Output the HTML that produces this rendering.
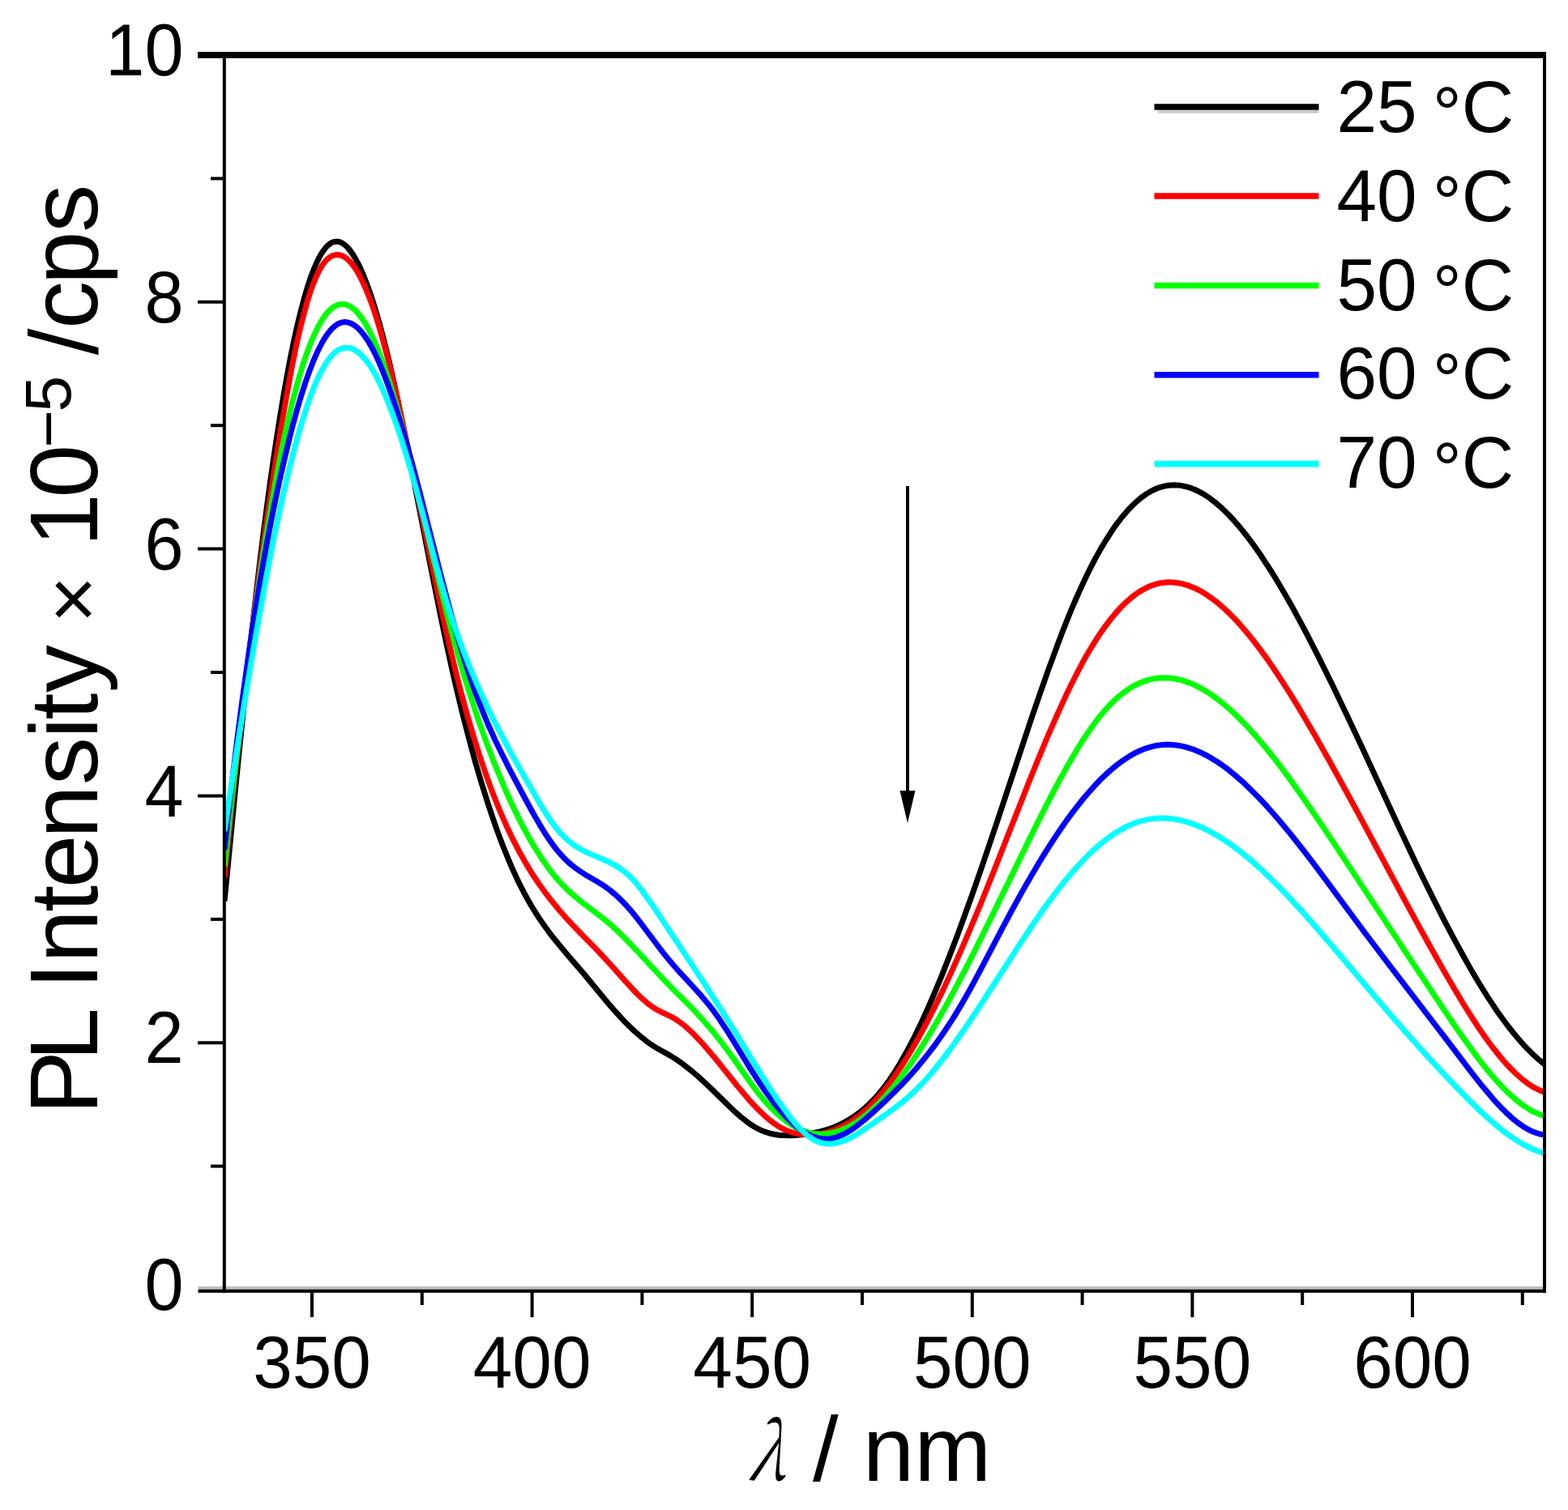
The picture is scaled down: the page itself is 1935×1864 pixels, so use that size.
<!DOCTYPE html>
<html><head><meta charset="utf-8"><title>PL Intensity vs wavelength</title>
<style>html,body{margin:0;padding:0;background:#fff;overflow:hidden}svg{display:block}</style></head>
<body>
<svg width="1935" height="1864" viewBox="0 0 1935 1864">
<rect width="1935" height="1864" fill="#fff"/>
<g fill="none" stroke-width="7" stroke-linejoin="round" stroke-linecap="butt" clip-path="url(#pc)">
<path d="M277.0,1112.3 289.2,987.0 299.2,888.1 308.5,800.9 317.0,725.5 321.2,689.7 325.2,657.4 329.5,624.6 333.5,595.0 337.8,565.1 341.8,538.4 345.8,513.0 349.8,489.0 354.0,465.0 358.2,442.6 362.5,421.8 366.5,403.6 370.8,385.9 375.0,369.8 379.2,355.3 383.2,343.1 387.5,331.8 391.5,322.7 393.5,318.6 395.5,315.0 397.5,311.7 399.8,308.4 401.8,305.9 404.0,303.5 406.0,301.8 408.2,300.2 410.2,299.2 412.5,298.5 414.5,298.2 416.8,298.2 418.2,298.5 419.8,298.9 422.8,300.4 425.8,302.5 429.0,305.6 432.0,309.1 435.2,313.7 438.2,318.6 441.5,324.6 444.8,331.3 448.0,338.7 451.2,346.8 454.5,355.5 457.8,364.9 461.0,374.9 464.2,385.6 467.8,397.7 473.2,418.2 478.8,440.3 484.5,465.1 490.8,493.7 496.8,522.4 503.2,554.6 530.5,694.5 543.5,759.1 550.5,792.5 557.0,822.2 563.5,850.6 570.0,877.6 578.0,909.0 586.2,939.3 594.5,967.6 602.8,993.9 611.0,1018.2 615.2,1029.9 619.5,1041.2 623.8,1052.0 628.0,1062.3 632.2,1072.1 636.8,1082.0 641.2,1091.4 646.0,1100.7 650.8,1109.5 655.5,1117.8 660.5,1126.0 665.5,1133.7 670.8,1141.3 676.5,1149.3 683.2,1158.1 690.8,1167.3 698.2,1176.2 720.5,1202.1 748.8,1236.4 758.8,1248.0 768.0,1258.1 776.0,1266.3 783.5,1273.4 790.8,1279.7 797.8,1285.3 803.0,1289.0 808.2,1292.4 813.5,1295.5 826.8,1302.9 834.0,1307.4 843.0,1313.7 852.5,1321.2 861.8,1329.1 871.5,1338.0 880.5,1346.6 899.2,1365.0 908.2,1373.5 913.2,1377.9 917.8,1381.6 922.0,1384.9 926.2,1388.0 931.0,1391.0 935.8,1393.6 940.5,1395.8 945.5,1397.7 950.5,1399.2 955.8,1400.3 961.2,1401.2 967.0,1401.6 973.5,1401.8 980.8,1401.5 988.8,1400.7 997.2,1399.6 1004.8,1398.4 1011.8,1396.9 1018.5,1395.1 1025.0,1393.0 1030.5,1390.9 1036.0,1388.5 1041.2,1385.9 1046.2,1383.1 1051.2,1380.1 1056.2,1376.6 1061.2,1372.9 1066.0,1369.0 1070.8,1364.7 1075.5,1360.0 1080.0,1355.3 1084.5,1350.2 1089.0,1344.7 1093.5,1338.9 1097.8,1333.0 1102.2,1326.3 1106.2,1320.1 1110.2,1313.5 1118.5,1299.1 1127.0,1283.0 1135.5,1265.6 1144.2,1246.7 1153.2,1226.0 1162.5,1203.6 1172.2,1178.9 1181.0,1155.9 1190.2,1130.8 1199.8,1104.2 1210.0,1074.8 1229.5,1017.3 1272.0,889.4 1283.5,855.8 1293.8,826.7 1305.8,794.0 1311.5,779.0 1317.0,765.1 1322.2,752.3 1327.5,740.0 1332.8,728.1 1337.8,717.3 1344.5,703.4 1351.2,690.3 1358.0,678.1 1364.8,666.8 1371.5,656.3 1378.2,646.6 1385.0,637.9 1391.8,630.0 1398.5,623.0 1405.0,617.1 1408.5,614.2 1411.8,611.8 1415.0,609.6 1418.2,607.6 1421.5,605.8 1424.8,604.2 1428.0,602.8 1431.5,601.6 1434.8,600.6 1438.2,599.8 1441.5,599.3 1445.0,598.9 1448.2,598.8 1451.8,598.9 1455.0,599.1 1458.5,599.6 1461.8,600.3 1465.2,601.1 1468.8,602.2 1472.2,603.5 1475.8,605.0 1479.2,606.7 1482.8,608.6 1486.2,610.6 1489.8,612.9 1493.5,615.5 1500.8,621.1 1508.2,627.7 1515.8,635.0 1523.2,643.0 1531.0,652.1 1538.8,661.8 1546.8,672.5 1555.0,684.3 1563.2,696.7 1570.8,708.5 1578.2,720.8 1586.0,734.0 1594.0,748.1 1602.2,763.1 1610.5,778.5 1619.2,795.3 1628.2,813.1 1644.5,846.0 1662.8,884.2 1680.8,922.6 1728.0,1024.6 1742.0,1054.3 1754.5,1080.4 1768.8,1109.4 1782.0,1135.6 1794.8,1159.9 1806.8,1181.8 1814.0,1194.6 1821.2,1207.0 1828.2,1218.5 1835.0,1229.3 1841.8,1239.6 1848.2,1249.2 1854.8,1258.3 1861.2,1267.0 1867.8,1275.3 1874.0,1282.7 1880.2,1289.8 1886.2,1296.1 1892.2,1302.0 1898.2,1307.4 1904.2,1312.4 1910.0,1316.7" stroke="#000000"/>
<path d="M277.0,1083.9 286.2,992.8 291.0,948.3 295.8,905.3 300.5,863.7 305.2,823.7 310.0,785.0 315.0,745.7 320.0,707.9 325.0,671.6 330.0,636.6 335.2,601.3 340.5,567.3 346.0,533.3 351.0,503.7 356.0,475.7 360.2,453.2 364.2,433.4 368.2,415.0 372.0,399.0 375.8,384.5 379.5,371.3 383.2,359.6 387.0,349.2 390.8,340.4 394.5,332.9 396.2,329.9 398.2,326.8 400.2,324.1 402.2,321.7 404.2,319.7 406.2,318.1 408.2,316.7 410.2,315.7 412.2,315.0 414.2,314.6 416.2,314.5 418.5,314.7 421.5,315.5 424.5,316.9 427.5,318.9 430.8,321.8 433.8,325.1 436.8,329.0 439.8,333.5 443.0,339.0 446.0,344.7 449.2,351.5 452.2,358.4 455.5,366.5 458.5,374.6 461.8,383.9 464.8,393.1 468.0,403.7 473.2,422.2 478.8,443.2 484.5,466.8 490.5,492.9 496.2,519.1 502.8,549.9 529.8,681.9 542.8,743.5 549.5,774.1 556.0,802.4 562.2,828.3 568.2,851.9 576.0,880.5 583.8,907.2 591.8,932.7 599.8,956.3 603.8,967.4 608.0,978.7 612.2,989.5 616.5,999.9 620.8,1009.9 625.2,1019.9 629.5,1029.0 634.0,1038.2 641.2,1052.1 648.8,1065.4 656.5,1078.2 664.5,1090.3 672.8,1101.8 681.5,1113.1 691.0,1124.5 701.2,1136.0 712.2,1147.6 734.0,1169.9 743.0,1179.3 752.5,1189.6 770.5,1209.9 778.0,1218.1 786.0,1226.5 793.0,1233.2 797.0,1236.7 801.0,1239.9 804.8,1242.7 808.5,1245.2 814.5,1248.5 824.8,1253.3 828.8,1255.3 832.5,1257.4 836.5,1260.0 841.0,1263.3 845.8,1267.1 850.5,1271.3 855.5,1276.1 860.0,1280.7 864.8,1285.8 875.2,1297.7 885.5,1310.1 912.0,1343.1 920.0,1352.6 927.0,1360.6 935.0,1369.1 942.2,1376.1 949.2,1382.2 952.8,1384.9 956.0,1387.3 960.0,1389.9 964.2,1392.4 968.5,1394.5 972.8,1396.3 977.0,1397.7 981.2,1398.9 985.8,1399.8 990.2,1400.4 995.0,1400.8 999.8,1400.8 1004.5,1400.5 1009.5,1399.9 1014.5,1399.1 1019.5,1397.9 1024.5,1396.5 1029.2,1394.9 1034.0,1393.0 1038.5,1390.9 1043.2,1388.4 1047.8,1385.8 1052.2,1382.9 1056.8,1379.7 1061.2,1376.3 1065.8,1372.6 1070.2,1368.5 1074.5,1364.5 1079.0,1359.8 1083.2,1355.2 1087.5,1350.3 1092.0,1344.8 1096.2,1339.4 1100.8,1333.3 1109.2,1321.1 1118.0,1307.5 1126.8,1293.0 1135.8,1277.1 1145.0,1259.8 1154.2,1241.6 1163.8,1222.1 1173.5,1201.1 1182.2,1181.7 1191.0,1161.6 1200.2,1139.8 1209.8,1116.8 1226.8,1074.5 1269.5,966.0 1281.5,936.4 1292.5,910.0 1304.8,881.9 1316.0,857.4 1321.5,846.0 1326.8,835.5 1332.0,825.3 1337.2,815.6 1344.0,803.8 1350.5,793.1 1357.2,782.7 1363.8,773.4 1370.2,764.8 1376.8,756.9 1383.2,749.7 1389.8,743.3 1396.2,737.6 1402.5,732.9 1408.8,728.8 1415.0,725.5 1418.2,724.0 1421.5,722.7 1424.8,721.6 1428.0,720.7 1431.2,720.0 1434.5,719.4 1437.8,719.0 1441.0,718.8 1444.2,718.8 1447.5,718.9 1450.8,719.2 1454.0,719.6 1457.2,720.2 1460.8,721.1 1467.5,723.2 1474.2,725.9 1481.0,729.3 1488.0,733.5 1495.0,738.3 1502.0,743.6 1509.2,749.8 1516.5,756.6 1524.0,764.2 1531.5,772.4 1539.2,781.5 1547.2,791.4 1555.2,801.9 1562.8,812.2 1570.5,823.3 1578.5,835.3 1586.5,847.6 1594.8,860.7 1603.5,875.0 1612.5,890.2 1622.0,906.5 1640.0,938.3 1660.5,975.5 1680.8,1012.9 1734.0,1112.2 1749.8,1141.2 1763.8,1166.5 1779.8,1194.9 1793.8,1219.1 1806.0,1239.5 1817.5,1257.7 1824.2,1268.0 1830.8,1277.4 1837.2,1286.5 1843.5,1294.8 1849.5,1302.3 1855.5,1309.5 1861.2,1315.8 1867.0,1321.8 1872.8,1327.2 1878.2,1332.0 1883.8,1336.3 1889.0,1339.9 1894.5,1343.2 1899.8,1345.8 1905.0,1347.9 1910.0,1349.5" stroke="#ff0000"/>
<path d="M277.0,1069.9 286.5,981.7 295.8,901.4 300.5,862.3 305.0,826.6 309.8,790.3 314.2,757.4 319.0,724.0 323.5,693.8 328.2,663.4 332.8,636.0 337.5,608.6 342.0,584.1 346.5,560.9 351.0,539.2 355.5,518.9 360.2,498.9 364.8,481.4 369.5,464.4 374.0,449.7 378.8,435.7 383.2,423.8 388.0,412.7 392.5,403.5 394.8,399.4 397.2,395.2 399.5,391.8 402.0,388.4 404.2,385.7 406.8,383.0 409.0,381.0 411.2,379.3 413.5,377.9 416.0,376.7 418.2,375.9 420.8,375.5 423.0,375.4 425.5,375.7 428.5,376.6 431.5,377.9 434.5,379.9 437.8,382.5 440.8,385.6 443.8,389.1 446.8,393.1 450.0,398.0 453.0,403.1 456.2,409.1 459.2,415.2 462.5,422.3 465.8,429.9 469.0,438.1 472.2,446.8 475.5,456.0 480.8,471.9 486.2,490.0 491.8,509.4 497.5,531.1 503.5,554.9 510.2,582.9 536.0,694.2 541.8,718.5 546.8,738.9 553.5,765.3 560.2,790.5 567.0,814.4 574.0,838.1 582.8,865.9 591.5,892.1 600.8,917.9 610.0,942.0 614.8,953.8 619.8,965.7 624.8,977.3 629.5,987.8 634.5,998.5 639.2,1008.3 644.2,1018.1 649.0,1027.1 654.2,1036.5 659.5,1045.5 664.8,1053.9 669.8,1061.6 675.0,1069.1 680.2,1076.1 685.5,1082.6 690.5,1088.4 694.8,1092.9 699.2,1097.4 703.8,1101.6 708.8,1106.0 718.8,1114.2 738.2,1129.0 746.2,1135.3 754.8,1142.5 763.5,1150.6 772.2,1159.2 782.2,1169.6 814.0,1203.8 825.0,1215.4 833.0,1223.6 849.8,1240.2 857.0,1247.7 865.0,1256.3 873.2,1265.7 881.5,1275.6 889.8,1286.0 896.8,1295.2 904.0,1305.1 922.8,1331.8 929.0,1340.5 935.2,1348.7 941.2,1356.1 945.5,1361.1 949.5,1365.5 953.8,1369.8 957.8,1373.7 961.8,1377.3 965.8,1380.7 969.8,1383.8 973.8,1386.6 977.5,1389.1 981.2,1391.2 985.0,1393.2 988.8,1394.9 992.2,1396.2 996.0,1397.4 999.8,1398.4 1003.5,1399.1 1007.2,1399.6 1011.0,1399.9 1014.8,1399.9 1018.5,1399.7 1022.2,1399.3 1026.2,1398.5 1030.0,1397.7 1034.0,1396.5 1037.8,1395.1 1041.8,1393.5 1045.8,1391.6 1049.8,1389.5 1053.8,1387.1 1057.8,1384.6 1061.8,1381.8 1065.8,1378.8 1069.8,1375.5 1074.0,1371.9 1082.2,1364.1 1090.8,1355.3 1099.2,1345.6 1107.2,1335.7 1115.5,1324.8 1123.8,1313.2 1132.2,1300.5 1141.0,1286.7 1149.8,1272.3 1159.0,1256.4 1168.5,1239.5 1177.0,1223.8 1186.0,1206.7 1195.5,1188.3 1205.5,1168.5 1224.5,1130.1 1272.0,1032.6 1284.8,1006.9 1295.5,985.9 1307.5,963.1 1318.8,942.9 1329.5,924.7 1334.5,916.7 1339.5,909.0 1345.8,899.8 1352.0,891.2 1358.0,883.4 1363.8,876.6 1369.5,870.3 1375.2,864.6 1381.0,859.4 1386.8,854.8 1392.8,850.6 1398.8,847.0 1404.8,843.9 1411.0,841.3 1417.2,839.3 1423.5,837.9 1429.8,837.0 1436.0,836.7 1442.5,836.9 1449.0,837.7 1455.5,839.0 1462.2,840.9 1469.0,843.4 1475.8,846.4 1482.8,850.1 1489.8,854.2 1496.8,858.9 1504.0,864.3 1511.2,870.1 1518.8,876.7 1526.2,883.7 1534.0,891.4 1541.8,899.6 1549.8,908.6 1557.0,917.0 1564.2,925.8 1572.0,935.5 1579.8,945.6 1587.8,956.3 1596.0,967.6 1614.0,993.2 1628.5,1014.4 1645.5,1039.9 1739.0,1181.9 1780.5,1244.2 1794.2,1264.5 1805.5,1280.8 1815.8,1295.1 1825.2,1307.8 1831.5,1315.8 1837.5,1323.2 1843.5,1330.3 1849.2,1336.7 1854.8,1342.6 1860.2,1348.1 1865.5,1353.0 1870.8,1357.6 1876.0,1361.8 1881.0,1365.4 1886.0,1368.7 1891.0,1371.6 1895.8,1373.9 1900.5,1375.9 1905.2,1377.5 1910.0,1378.7" stroke="#00ff00"/>
<path d="M277.0,1049.0 281.2,1010.1 285.5,972.8 289.8,937.1 294.0,902.9 298.2,870.2 302.8,837.0 307.2,805.5 311.8,775.3 316.2,746.7 321.0,717.8 325.8,690.5 330.5,664.5 335.5,638.5 340.5,614.0 345.5,590.7 350.8,567.6 356.0,545.7 361.2,525.2 366.5,506.0 371.5,489.1 376.5,473.4 381.5,459.1 386.5,446.2 391.2,435.3 396.0,425.7 398.5,421.1 400.8,417.4 403.2,413.6 405.5,410.6 408.0,407.5 410.2,405.2 412.5,403.1 415.0,401.2 417.2,399.8 419.8,398.7 422.0,398.0 424.5,397.6 426.8,397.6 429.2,398.0 432.0,398.8 434.8,400.0 437.5,401.7 440.5,404.0 443.2,406.6 446.2,409.9 449.2,413.7 452.2,417.9 455.0,422.2 458.0,427.4 461.0,433.0 464.0,439.0 467.0,445.5 470.0,452.4 473.0,459.7 476.2,468.1 482.5,485.4 488.8,504.3 495.5,526.2 502.5,550.3 509.8,576.6 517.8,606.8 545.0,713.9 556.0,755.7 562.5,779.0 568.8,800.3 574.8,819.7 580.8,838.0 587.5,857.1 594.8,876.0 602.2,894.0 610.5,912.4 619.0,930.1 629.0,949.8 646.5,983.0 658.0,1004.1 663.8,1014.1 669.0,1022.9 674.0,1030.8 678.8,1037.9 683.5,1044.5 688.0,1050.2 692.5,1055.4 697.0,1060.2 701.0,1064.0 705.0,1067.5 709.5,1071.0 714.0,1074.3 722.2,1079.7 737.0,1088.3 742.5,1091.7 748.2,1095.5 753.2,1099.2 759.5,1104.5 766.0,1110.6 772.2,1117.0 778.8,1124.4 783.2,1129.8 788.2,1136.2 811.8,1167.5 818.2,1175.9 824.5,1183.6 830.5,1190.8 837.0,1198.2 858.0,1221.0 865.8,1229.7 873.8,1239.2 880.8,1248.2 888.5,1259.1 897.2,1272.4 905.5,1285.6 925.2,1317.8 935.0,1333.1 944.8,1347.4 949.5,1354.0 954.2,1360.2 959.0,1366.2 963.5,1371.5 968.0,1376.5 972.5,1381.2 976.8,1385.3 981.0,1389.1 985.2,1392.5 989.5,1395.6 992.8,1397.7 996.0,1399.5 999.2,1401.2 1002.2,1402.5 1005.5,1403.7 1008.5,1404.6 1011.8,1405.3 1014.8,1405.7 1017.8,1405.9 1020.8,1405.9 1023.8,1405.7 1026.8,1405.2 1029.8,1404.5 1033.0,1403.5 1036.0,1402.4 1039.2,1401.0 1042.5,1399.4 1045.8,1397.6 1052.8,1393.2 1060.0,1387.9 1068.0,1381.4 1078.5,1372.1 1091.8,1359.8 1103.0,1348.8 1113.5,1338.0 1122.2,1328.6 1130.5,1319.2 1138.5,1309.6 1146.2,1299.9 1153.8,1290.0 1161.2,1279.5 1168.5,1268.8 1175.8,1257.6 1181.0,1249.1 1186.5,1239.9 1192.2,1229.9 1198.5,1218.7 1211.0,1195.4 1236.8,1146.2 1247.8,1125.5 1261.0,1101.4 1273.8,1079.2 1281.0,1067.0 1288.2,1055.1 1295.5,1043.6 1302.5,1032.9 1309.5,1022.5 1316.2,1012.9 1323.0,1003.7 1329.8,994.9 1337.2,985.5 1344.8,976.7 1352.0,968.7 1359.2,961.3 1366.5,954.4 1373.5,948.2 1380.5,942.6 1387.5,937.6 1394.5,933.1 1401.2,929.3 1408.0,926.2 1414.8,923.6 1421.5,921.6 1428.0,920.2 1434.5,919.4 1441.2,919.1 1447.5,919.4 1453.8,920.2 1460.0,921.4 1466.5,923.1 1473.0,925.3 1479.5,927.9 1486.2,931.1 1493.0,934.8 1499.8,938.9 1506.8,943.5 1513.8,948.6 1521.0,954.4 1528.2,960.5 1535.8,967.2 1543.2,974.4 1551.0,982.2 1557.5,989.0 1564.0,996.0 1577.8,1011.7 1592.2,1029.1 1607.8,1048.7 1618.5,1062.7 1630.5,1078.6 1682.5,1149.0 1713.8,1190.4 1781.8,1279.0 1816.5,1324.6 1828.5,1339.8 1838.8,1352.1 1844.0,1358.2 1849.2,1363.9 1854.2,1369.1 1859.0,1373.8 1863.8,1378.2 1868.2,1382.1 1872.8,1385.7 1877.2,1388.9 1881.5,1391.7 1885.8,1394.1 1890.0,1396.3 1894.0,1397.9 1898.0,1399.3 1902.0,1400.3 1906.0,1400.9 1910.0,1401.2" stroke="#0000ff"/>
<path d="M277.0,1025.9 289.5,943.9 301.2,870.0 312.2,804.0 317.8,772.4 323.0,743.1 328.2,714.7 333.2,688.7 338.2,663.6 343.0,640.7 348.0,617.6 352.8,596.7 357.5,576.9 362.0,559.1 366.5,542.3 371.0,526.5 375.5,511.8 380.0,498.2 384.5,485.7 388.8,475.0 393.2,464.9 397.5,456.5 401.8,449.2 403.8,446.2 406.0,443.1 408.0,440.6 410.2,438.1 412.2,436.1 414.5,434.2 416.5,432.8 418.8,431.5 421.0,430.5 423.2,429.7 425.2,429.4 427.5,429.2 429.8,429.3 432.0,429.7 434.5,430.5 437.2,431.7 440.0,433.4 442.8,435.4 445.5,437.8 448.2,440.7 451.0,443.9 454.0,447.8 456.8,451.7 459.8,456.5 462.5,461.2 465.5,466.7 471.2,478.4 477.2,492.1 483.2,507.3 489.2,523.9 495.2,541.8 501.5,561.7 507.8,583.0 514.0,605.4 520.0,628.0 536.8,692.1 542.0,711.5 546.5,727.4 552.2,746.6 558.0,764.6 564.0,782.2 570.5,800.1 579.0,821.9 588.0,843.4 597.5,864.5 607.5,885.3 617.8,905.4 629.0,926.4 642.2,950.1 662.5,985.6 668.5,995.7 673.8,1004.1 678.8,1011.7 683.2,1018.0 687.5,1023.5 691.8,1028.5 696.0,1032.9 700.5,1037.1 704.8,1040.6 709.0,1043.6 713.5,1046.5 718.2,1049.2 722.5,1051.4 727.2,1053.6 744.0,1060.7 750.5,1063.7 757.2,1067.1 763.2,1070.7 766.5,1073.0 769.8,1075.4 773.0,1078.0 776.0,1080.7 779.0,1083.6 781.8,1086.5 788.0,1093.8 792.0,1098.9 796.2,1104.7 806.8,1119.8 845.5,1178.1 872.8,1219.5 887.5,1242.5 901.0,1263.9 911.0,1280.1 932.8,1315.9 942.2,1331.2 951.2,1345.3 959.5,1357.7 965.8,1366.6 971.8,1374.8 977.2,1381.8 982.2,1387.8 987.0,1392.9 991.8,1397.6 996.2,1401.5 1000.8,1404.8 1003.2,1406.4 1005.8,1407.8 1008.2,1408.9 1010.8,1409.9 1013.2,1410.7 1016.0,1411.3 1018.5,1411.7 1021.2,1411.9 1024.0,1412.0 1026.8,1411.8 1029.5,1411.5 1032.2,1411.0 1038.0,1409.4 1044.2,1407.1 1050.5,1404.1 1057.0,1400.4 1064.2,1395.9 1073.0,1389.9 1094.0,1375.2 1104.5,1367.5 1114.5,1359.7 1123.5,1351.9 1129.5,1346.3 1135.5,1340.2 1141.5,1333.8 1147.8,1326.7 1154.0,1319.3 1160.5,1311.2 1167.2,1302.5 1174.2,1293.0 1187.5,1274.4 1202.2,1252.6 1217.5,1229.2 1258.5,1165.6 1271.0,1146.7 1282.2,1130.2 1295.0,1112.3 1307.0,1096.5 1313.0,1088.9 1318.8,1082.0 1324.5,1075.3 1330.2,1068.8 1337.2,1061.4 1344.2,1054.4 1351.2,1047.8 1358.0,1041.9 1364.8,1036.5 1371.5,1031.5 1378.0,1027.2 1384.5,1023.4 1390.8,1020.1 1397.0,1017.4 1403.2,1015.0 1409.8,1013.1 1416.2,1011.6 1422.8,1010.6 1429.2,1010.1 1436.0,1010.0 1442.2,1010.3 1448.8,1011.1 1455.2,1012.2 1461.8,1013.8 1468.2,1015.7 1475.0,1018.1 1481.8,1020.9 1488.5,1024.0 1495.5,1027.7 1502.5,1031.7 1509.5,1036.1 1516.8,1040.9 1524.0,1046.2 1531.5,1051.9 1539.0,1058.0 1546.8,1064.6 1559.8,1076.4 1573.5,1089.8 1588.0,1104.7 1603.2,1121.1 1616.5,1135.9 1631.2,1152.9 1646.8,1171.0 1699.2,1233.1 1719.2,1256.3 1738.2,1278.0 1759.0,1301.1 1779.0,1322.8 1798.8,1343.6 1815.5,1360.6 1823.0,1367.9 1830.0,1374.6 1836.8,1380.7 1843.2,1386.4 1849.5,1391.6 1855.5,1396.4 1861.5,1400.9 1867.2,1404.9 1873.0,1408.6 1878.5,1411.9 1884.0,1414.9 1889.2,1417.5 1894.5,1419.8 1899.8,1421.7 1905.0,1423.4 1910.0,1424.6" stroke="#00ffff"/>
</g>
<clipPath id="pc"><rect x="277" y="70" width="1629" height="1522"/></clipPath>
<g stroke="#000" stroke-width="4">
<line x1="260" y1="1439.6" x2="277" y2="1439.6"/>
<line x1="244" y1="1287.2" x2="277" y2="1287.2"/>
<line x1="260" y1="1134.8" x2="277" y2="1134.8"/>
<line x1="244" y1="982.4" x2="277" y2="982.4"/>
<line x1="260" y1="830.0" x2="277" y2="830.0"/>
<line x1="244" y1="677.6" x2="277" y2="677.6"/>
<line x1="260" y1="525.2" x2="277" y2="525.2"/>
<line x1="244" y1="372.8" x2="277" y2="372.8"/>
<line x1="260" y1="220.4" x2="277" y2="220.4"/>
<line x1="385.0" y1="1592" x2="385.0" y2="1626"/>
<line x1="520.8" y1="1592" x2="520.8" y2="1611"/>
<line x1="656.6" y1="1592" x2="656.6" y2="1626"/>
<line x1="792.4" y1="1592" x2="792.4" y2="1611"/>
<line x1="928.2" y1="1592" x2="928.2" y2="1626"/>
<line x1="1064.0" y1="1592" x2="1064.0" y2="1611"/>
<line x1="1199.8" y1="1592" x2="1199.8" y2="1626"/>
<line x1="1335.6" y1="1592" x2="1335.6" y2="1611"/>
<line x1="1471.4" y1="1592" x2="1471.4" y2="1626"/>
<line x1="1607.2" y1="1592" x2="1607.2" y2="1611"/>
<line x1="1743.0" y1="1592" x2="1743.0" y2="1626"/>
<line x1="1878.8" y1="1592" x2="1878.8" y2="1611"/>
</g>
<rect x="244" y="64" width="1664" height="7.8" fill="#000"/>
<rect x="244.5" y="1588" width="1663" height="3.8" fill="#bdbdbd"/>
<rect x="244.5" y="1591.7" width="1663.5" height="4.1" fill="#000"/>
<rect x="274.8" y="64" width="4" height="1532" fill="#000"/>
<rect x="1904" y="64" width="4" height="1532" fill="#000"/>
<g font-family="Liberation Sans, Arial, sans-serif" font-size="91" fill="#000">
<text transform="translate(226.5,1617.2) scale(0.95,1)" text-anchor="end">0</text>
<text transform="translate(226.5,1312.4) scale(0.95,1)" text-anchor="end">2</text>
<text transform="translate(226.5,1007.6) scale(0.95,1)" text-anchor="end">4</text>
<text transform="translate(226.5,702.8) scale(0.95,1)" text-anchor="end">6</text>
<text transform="translate(226.5,398.0) scale(0.95,1)" text-anchor="end">8</text>
<text transform="translate(226.5,93.2) scale(0.95,1)" text-anchor="end">10</text>
<text transform="translate(385.0,1712.5) scale(0.96,1)" text-anchor="middle">350</text>
<text transform="translate(656.6,1712.5) scale(0.96,1)" text-anchor="middle">400</text>
<text transform="translate(928.2,1712.5) scale(0.96,1)" text-anchor="middle">450</text>
<text transform="translate(1199.8,1712.5) scale(0.96,1)" text-anchor="middle">500</text>
<text transform="translate(1471.4,1712.5) scale(0.96,1)" text-anchor="middle">550</text>
<text transform="translate(1743.0,1712.5) scale(0.96,1)" text-anchor="middle">600</text>
</g>
<rect x="1429" y="135.8" width="198" height="4" fill="#cccccc"/>
<g font-family="Liberation Sans, Arial, sans-serif" font-size="91" fill="#000">
<line x1="1424.5" y1="132.0" x2="1627.5" y2="132.0" stroke="#000000" stroke-width="7.6"/>
<text transform="translate(1649.5,163.0) scale(0.98,1)">25<tspan dx="-5.5" dy="8"> °</tspan><tspan dy="-8">C</tspan></text>
<line x1="1424.5" y1="242.0" x2="1627.5" y2="242.0" stroke="#ff0000" stroke-width="7.6"/>
<text transform="translate(1649.5,272.5) scale(0.98,1)">40<tspan dx="-5.5" dy="8"> °</tspan><tspan dy="-8">C</tspan></text>
<line x1="1424.5" y1="352.5" x2="1627.5" y2="352.5" stroke="#00ff00" stroke-width="7.6"/>
<text transform="translate(1649.5,382.5) scale(0.98,1)">50<tspan dx="-5.5" dy="8"> °</tspan><tspan dy="-8">C</tspan></text>
<line x1="1424.5" y1="462.8" x2="1627.5" y2="462.8" stroke="#0000ff" stroke-width="7.6"/>
<text transform="translate(1649.5,492.3) scale(0.98,1)">60<tspan dx="-5.5" dy="8"> °</tspan><tspan dy="-8">C</tspan></text>
<line x1="1424.5" y1="572.6" x2="1627.5" y2="572.6" stroke="#00ffff" stroke-width="7.6"/>
<text transform="translate(1649.5,602.0) scale(0.98,1)">70<tspan dx="-5.5" dy="8"> °</tspan><tspan dy="-8">C</tspan></text>
</g>
<line x1="1120" y1="600" x2="1120" y2="980" stroke="#000" stroke-width="4"/>
<polygon points="1110.5,976 1129.5,976 1120,1016" fill="#000"/>
<text id="xt1" transform="translate(922.5,1826.5) skewX(-17.8) scale(0.80,1)" font-family="Noto Serif CJK SC, Liberation Serif, serif" font-size="97">λ</text>
<text id="xt2" x="1003 1035 1064.8 1128.3" y="1828" font-family="Liberation Sans, Arial, sans-serif" font-size="114">/ nm</text>
<text id="ytitle" transform="translate(119.5,1362.5) rotate(-90)" font-family="Liberation Sans, Arial, sans-serif" font-size="118" x="-13.31 52.88 72.88 141.18 173.78 236.80 266.16 327.54 393.55 450.75 473.91 507.59 527.59">PL Intensity <tspan font-size="100" dy="4.7" x="593.2">×</tspan><tspan dy="-4.7" x="607.87 687.76 748.02"> 10</tspan><tspan dy="-33" font-size="80" x="809.74 854.00">−5</tspan><tspan dy="33" x="874.00 924.31 956.57 1011.17 1075.75"> /cps</tspan></text>
</svg>
</body></html>
